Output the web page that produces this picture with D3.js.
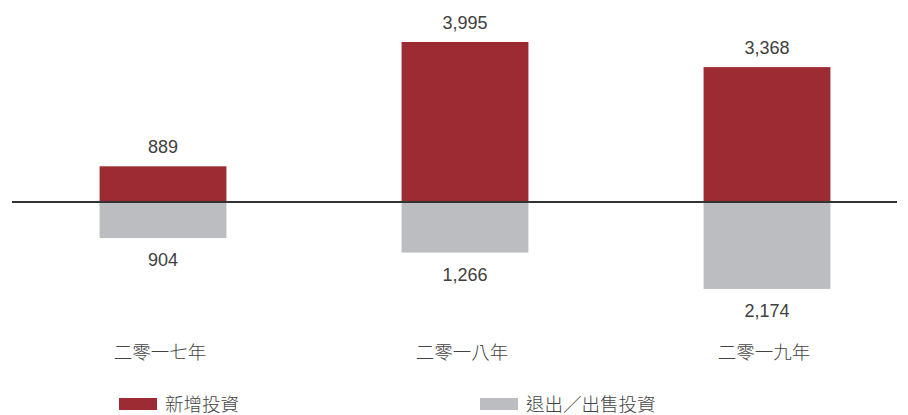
<!DOCTYPE html>
<html><head><meta charset="utf-8">
<script src="https://cdn.jsdelivr.net/npm/d3@7"></script>
<style>body{margin:0;background:#fff}svg{display:block}</style>
</head><body><div id="chart"></div>
<script>
const categories = ["二零一七年", "二零一八年", "二零一九年"];
const newInvest = [889, 3995, 3368];
const exitInvest = [904, 1266, 2174];
const seriesNames = ["新增投資", "退出／出售投資"];
const colors = ["#9c2b33", "#bcbdc0"];

const W = 908, H = 415;
const svg = d3.select("#chart").append("svg").attr("width", W).attr("height", H);
const x = d3.scaleBand().domain(categories).range([12, 918]).paddingInner(0.58).paddingOuter(0.29);
const y = d3.scaleLinear().domain([-4000, 3995]).range([362, 42]);
const numFont = "'Liberation Sans', Arial, sans-serif";
const cjkFont = "'Noto Sans CJK TC', 'Noto Sans CJK SC', sans-serif";

const g = svg.append("g");
g.selectAll(".pos").data(newInvest).join("rect")
  .attr("x", (d, i) => x(categories[i])).attr("width", x.bandwidth())
  .attr("y", d => y(d)).attr("height", d => y(0) - y(d)).attr("fill", colors[0]);
g.selectAll(".neg").data(exitInvest).join("rect")
  .attr("x", (d, i) => x(categories[i])).attr("width", x.bandwidth())
  .attr("y", y(0)).attr("height", d => y(-d) - y(0)).attr("fill", colors[1]);

svg.append("line").attr("x1", 12).attr("x2", 897).attr("y1", y(0)).attr("y2", y(0))
  .attr("stroke", "#333").attr("stroke-width", 2);

const fmt = d3.format(",");
g.selectAll(".pl").data(newInvest).join("text")
  .attr("x", (d, i) => x(categories[i]) + x.bandwidth() / 2).attr("y", d => y(d) - 13)
  .attr("text-anchor", "middle").attr("font-family", numFont).attr("font-size", 18)
  .attr("fill", "#404040").text(d => fmt(d));
g.selectAll(".nl").data(exitInvest).join("text")
  .attr("x", (d, i) => x(categories[i]) + x.bandwidth() / 2).attr("y", d => y(-d) + 28)
  .attr("text-anchor", "middle").attr("font-family", numFont).attr("font-size", 18)
  .attr("fill", "#404040").text(d => fmt(d));

g.selectAll(".cl").data(categories).join("text")
  .attr("x", d => x(d) + x.bandwidth() / 2 - 3).attr("y", 359)
  .attr("text-anchor", "middle").attr("font-family", cjkFont).attr("font-weight", 300)
  .attr("font-size", 18.5).attr("fill", "#444").text(d => d);

const legX = [119, 480];
seriesNames.forEach((n, i) => {
  svg.append("rect").attr("x", legX[i]).attr("y", 398).attr("width", 38).attr("height", 12).attr("fill", colors[i]);
  svg.append("text").attr("x", legX[i] + 46).attr("y", 411).attr("font-family", cjkFont).attr("font-weight", 300)
    .attr("font-size", 18.5).attr("fill", "#444").text(n);
});
</script></body></html>
